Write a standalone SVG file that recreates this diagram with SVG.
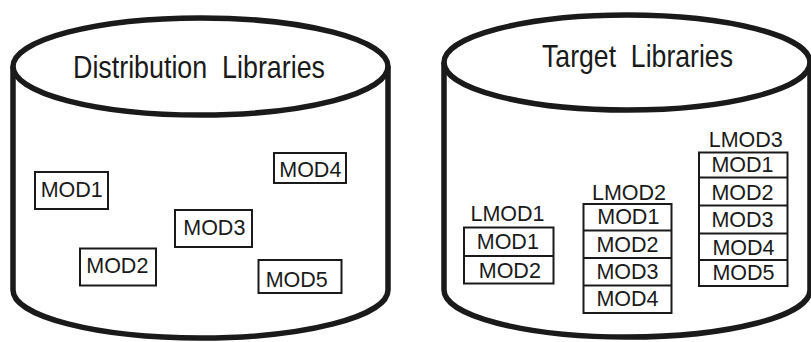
<svg xmlns="http://www.w3.org/2000/svg" width="811" height="342" viewBox="0 0 811 342">
<style>
  .cyl { fill: none; stroke: #1a1a1a; stroke-width: 5.5; }
  .box { fill: #fff; stroke: #1a1a1a; stroke-width: 2; }
  .div { stroke: #1a1a1a; stroke-width: 2; }
  .title { font-family: "Liberation Sans", Arial, sans-serif; font-size: 32px; fill: #1a1a1a; white-space: pre; }
  .lbl { font-family: "Liberation Sans", Arial, sans-serif; font-size: 21.5px; fill: #1a1a1a; text-anchor: middle; }
</style>
<rect width="811" height="342" fill="#fff"/>

<g id="distribution-libraries">
  <ellipse class="cyl" cx="200.5" cy="66.5" rx="187.5" ry="48.5"/>
  <path class="cyl" d="M13 66.5 V290 A187.5 48 0 0 0 388 290 V66.5"/>
  <text class="title" x="73" y="78" textLength="252" lengthAdjust="spacingAndGlyphs" xml:space="preserve">Distribution  Libraries</text>
</g>

<g id="target-libraries">
  <ellipse class="cyl" cx="627" cy="62.5" rx="183" ry="47.5"/>
  <path class="cyl" d="M444 62.5 V290 A183 47 0 0 0 810 290 V62.5"/>
  <text class="title" x="542" y="67" textLength="191" lengthAdjust="spacingAndGlyphs" xml:space="preserve">Target  Libraries</text>
</g>

<g id="dist-mod1">
  <rect class="box" x="35" y="172" width="73" height="37"/>
  <text class="lbl" x="71.7" y="196.7">MOD1</text>
</g>
<g id="dist-mod2">
  <rect class="box" x="80" y="248.5" width="76" height="37"/>
  <text class="lbl" x="117.3" y="273.3">MOD2</text>
</g>
<g id="dist-mod3">
  <rect class="box" x="175" y="210" width="77" height="37"/>
  <text class="lbl" x="214.3" y="235">MOD3</text>
</g>
<g id="dist-mod4">
  <rect class="box" x="274" y="153" width="72" height="30"/>
  <text class="lbl" x="310.3" y="176.7">MOD4</text>
</g>
<g id="dist-mod5">
  <rect class="box" x="258.5" y="260" width="83" height="33"/>
  <text class="lbl" x="296.7" y="286.7">MOD5</text>
</g>

<g id="lmod1">
  <text class="lbl" x="507.5" y="220.5">LMOD1</text>
  <rect class="box" x="464" y="227.5" width="89.5" height="56"/>
  <line class="div" x1="464" y1="256" x2="553.5" y2="256"/>
  <text class="lbl" x="507.8" y="249.3">MOD1</text>
  <text class="lbl" x="509.8" y="278.3">MOD2</text>
</g>

<g id="lmod2">
  <text class="lbl" x="629" y="200">LMOD2</text>
  <rect class="box" x="583.5" y="204" width="88" height="109"/>
  <line class="div" x1="583.5" y1="230.5" x2="671.5" y2="230.5"/>
  <line class="div" x1="583.5" y1="258" x2="671.5" y2="258"/>
  <line class="div" x1="583.5" y1="285.5" x2="671.5" y2="285.5"/>
  <text class="lbl" x="628.3" y="224">MOD1</text>
  <text class="lbl" x="627.5" y="251.7">MOD2</text>
  <text class="lbl" x="627.5" y="279">MOD3</text>
  <text class="lbl" x="627.5" y="305.7">MOD4</text>
</g>

<g id="lmod3">
  <text class="lbl" x="745.8" y="146.7">LMOD3</text>
  <rect class="box" x="699" y="152.5" width="88.5" height="133.5"/>
  <line class="div" x1="699" y1="177.5" x2="787.5" y2="177.5"/>
  <line class="div" x1="699" y1="205.5" x2="787.5" y2="205.5"/>
  <line class="div" x1="699" y1="233.5" x2="787.5" y2="233.5"/>
  <line class="div" x1="699" y1="260" x2="787.5" y2="260"/>
  <text class="lbl" x="742.5" y="172.3">MOD1</text>
  <text class="lbl" x="742.5" y="200">MOD2</text>
  <text class="lbl" x="742.5" y="226.7">MOD3</text>
  <text class="lbl" x="743.5" y="255">MOD4</text>
  <text class="lbl" x="743.5" y="280">MOD5</text>
</g>

<g id="connectors"/>
</svg>
